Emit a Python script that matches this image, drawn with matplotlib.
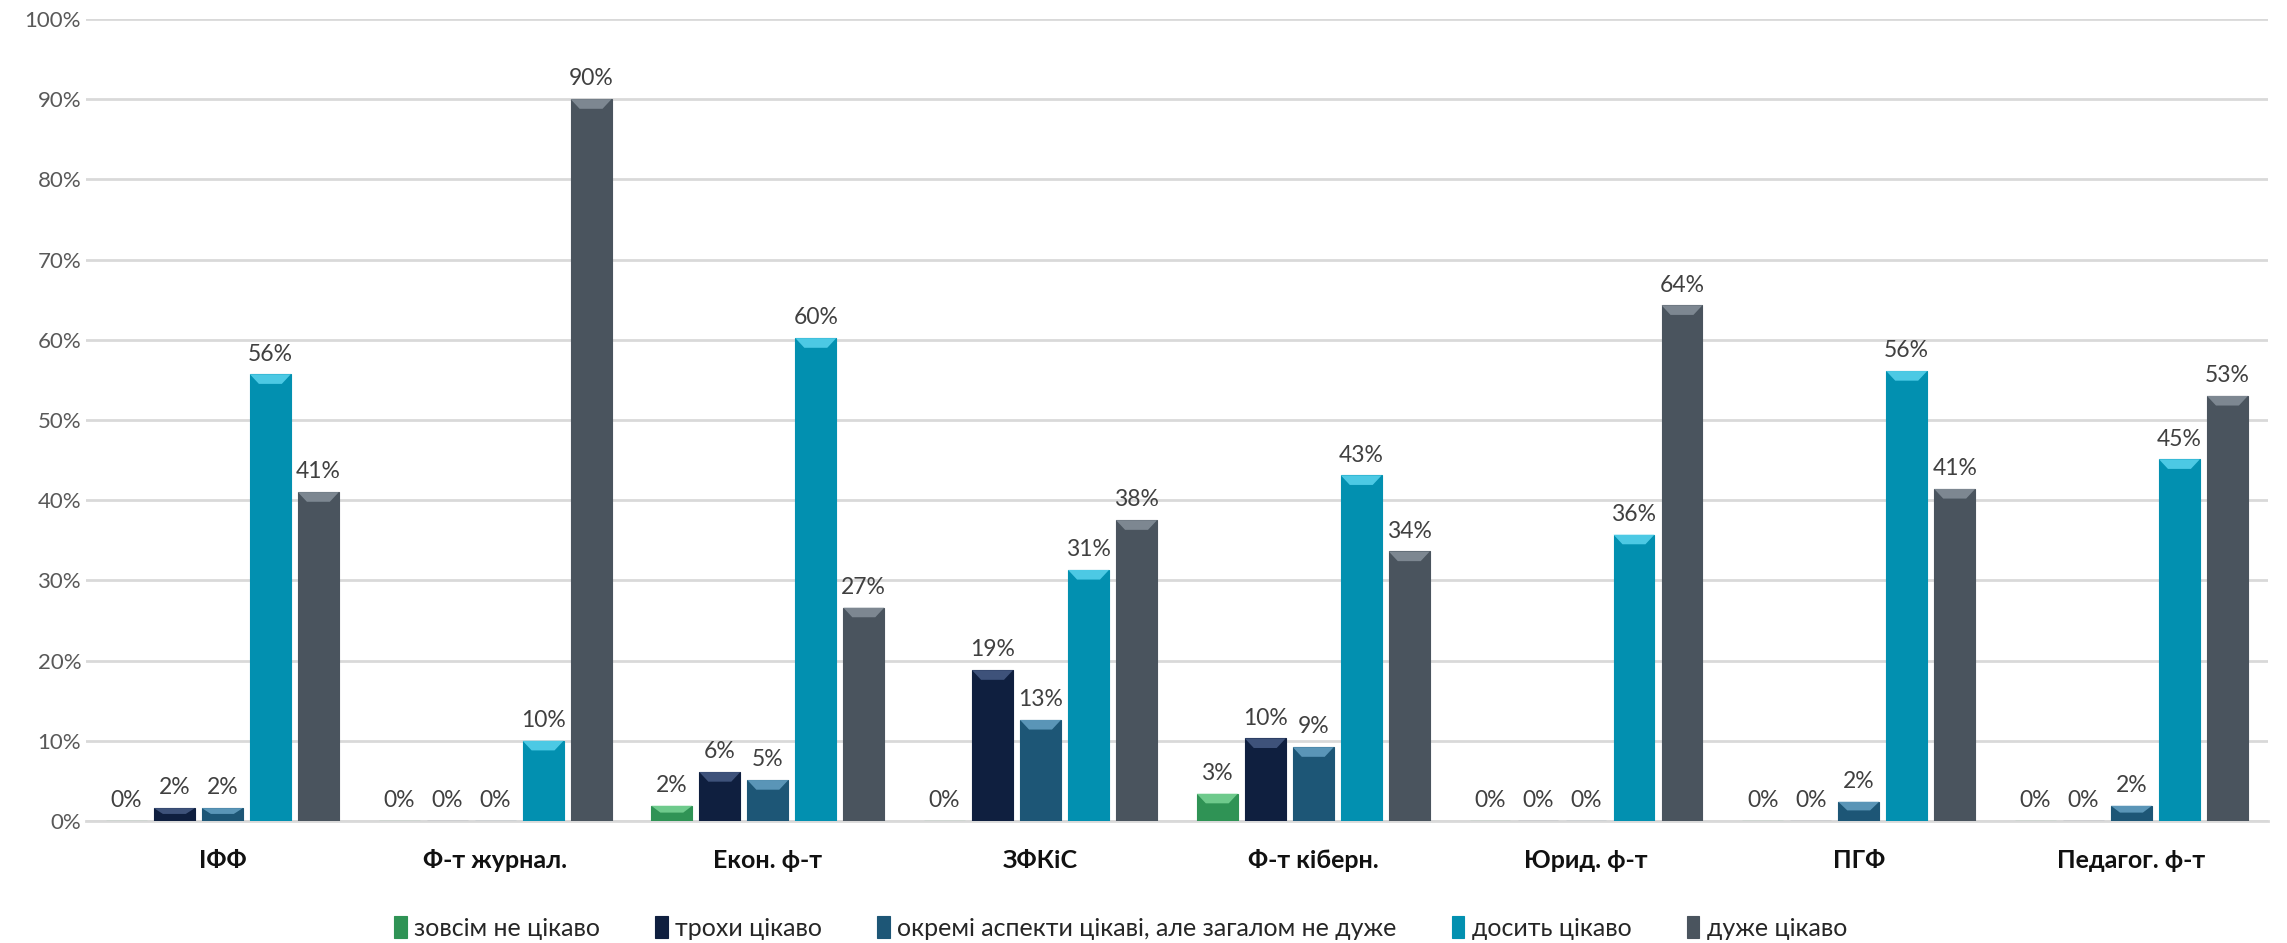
import matplotlib
matplotlib.use("Agg")
import matplotlib.pyplot as plt
import numpy as np
from matplotlib.patches import Polygon
from matplotlib.ticker import PercentFormatter

plt.rcParams["font.family"] = ["Lato", "Open Sans", "DejaVu Sans"]

faculties = ["ІФФ", "Ф-т журнал.", "Екон. ф-т", "ЗФКіС", "Ф-т кіберн.",
             "Юрид. ф-т", "ПГФ", "Педагог. ф-т"]
series = ["зовсім не цікаво", "трохи цікаво",
          "окремі аспекти цікаві, але загалом не дуже",
          "досить цікаво", "дуже цікаво"]
not_at_all = [0, 0, 1.9, 0, 3.4, 0, 0, 0]
a_little = [1.6, 0, 6.1, 18.8, 10.3, 0, 0, 0]
some_aspects = [1.6, 0, 5.1, 12.6, 9.2, 0, 2.4, 1.9]
quite = [55.7, 10, 60.2, 31.3, 43.1, 35.7, 56.1, 45.1]
very = [41.0, 90, 26.6, 37.5, 33.6, 64.3, 41.4, 53.0]
values = [not_at_all, a_little, some_aspects, quite, very]
colors = ["#2f9355", "#0f1f3f", "#1d5676", "#0290b0", "#4a545e"]
highlights = ["#7fd89a", "#4a5f8a", "#6aa6c8", "#5fd8f2", "#8a959f"]

fig = plt.figure(figsize=(22.87, 9.43), dpi=100)
ax = fig.add_axes([0.0376, 0.1294, 0.954, 0.8505])

x = np.arange(len(faculties))
step = 0.176
width = 0.15
for i, (vals, c, hl, name) in enumerate(zip(values, colors, highlights, series)):
    pos = x + (i - 2) * step
    bars = ax.bar(pos, vals, width, color=c, edgecolor=c, linewidth=0.8,
                  label=name, zorder=3)
    for b, v in zip(bars, vals):
        if v > 0:
            bx, bw, bh = b.get_x(), b.get_width(), b.get_height()
            bev = min(1.2, bh * 0.45)
            inset = bw * 0.22
            ax.add_patch(Polygon([(bx, bh), (bx + bw, bh),
                                  (bx + bw - inset, bh - bev), (bx + inset, bh - bev)],
                                 closed=True, facecolor=hl, edgecolor="none",
                                 alpha=0.8, zorder=4))
        ax.annotate(f"{v:.0f}%", (b.get_x() + b.get_width() / 2, v),
                    xytext=(0, 7), textcoords="offset points",
                    ha="center", va="bottom", fontsize=16.5, color="#404040")

ax.set_ylim(0, 100)
ax.set_xlim(-0.5, len(faculties) - 0.5)
ax.set_yticks(np.arange(0, 101, 10))
ax.yaxis.set_major_formatter(PercentFormatter(decimals=0))
ax.set_xticks(x)
ax.set_xticklabels(faculties, fontsize=18, fontweight="bold", color="#111111")
ax.tick_params(axis="both", length=0, labelsize=16, colors="#595959")
ax.tick_params(axis="x", pad=20, labelcolor="#111111", labelsize=18)
ax.grid(axis="y", color="#d9d9d9", linewidth=2, zorder=0)
for s in ["top", "right", "left"]:
    ax.spines[s].set_visible(False)
ax.spines["bottom"].set_color("#d9d9d9")
ax.spines["bottom"].set_linewidth(2)

fig.legend(loc="center", bbox_to_anchor=(0.49, 0.016), ncol=5, frameon=False,
           fontsize=18, handlelength=0.5, handleheight=1.0, handletextpad=0.3,
           columnspacing=2.2, labelcolor="#262626")

fig.savefig("out.png", dpi=100)
